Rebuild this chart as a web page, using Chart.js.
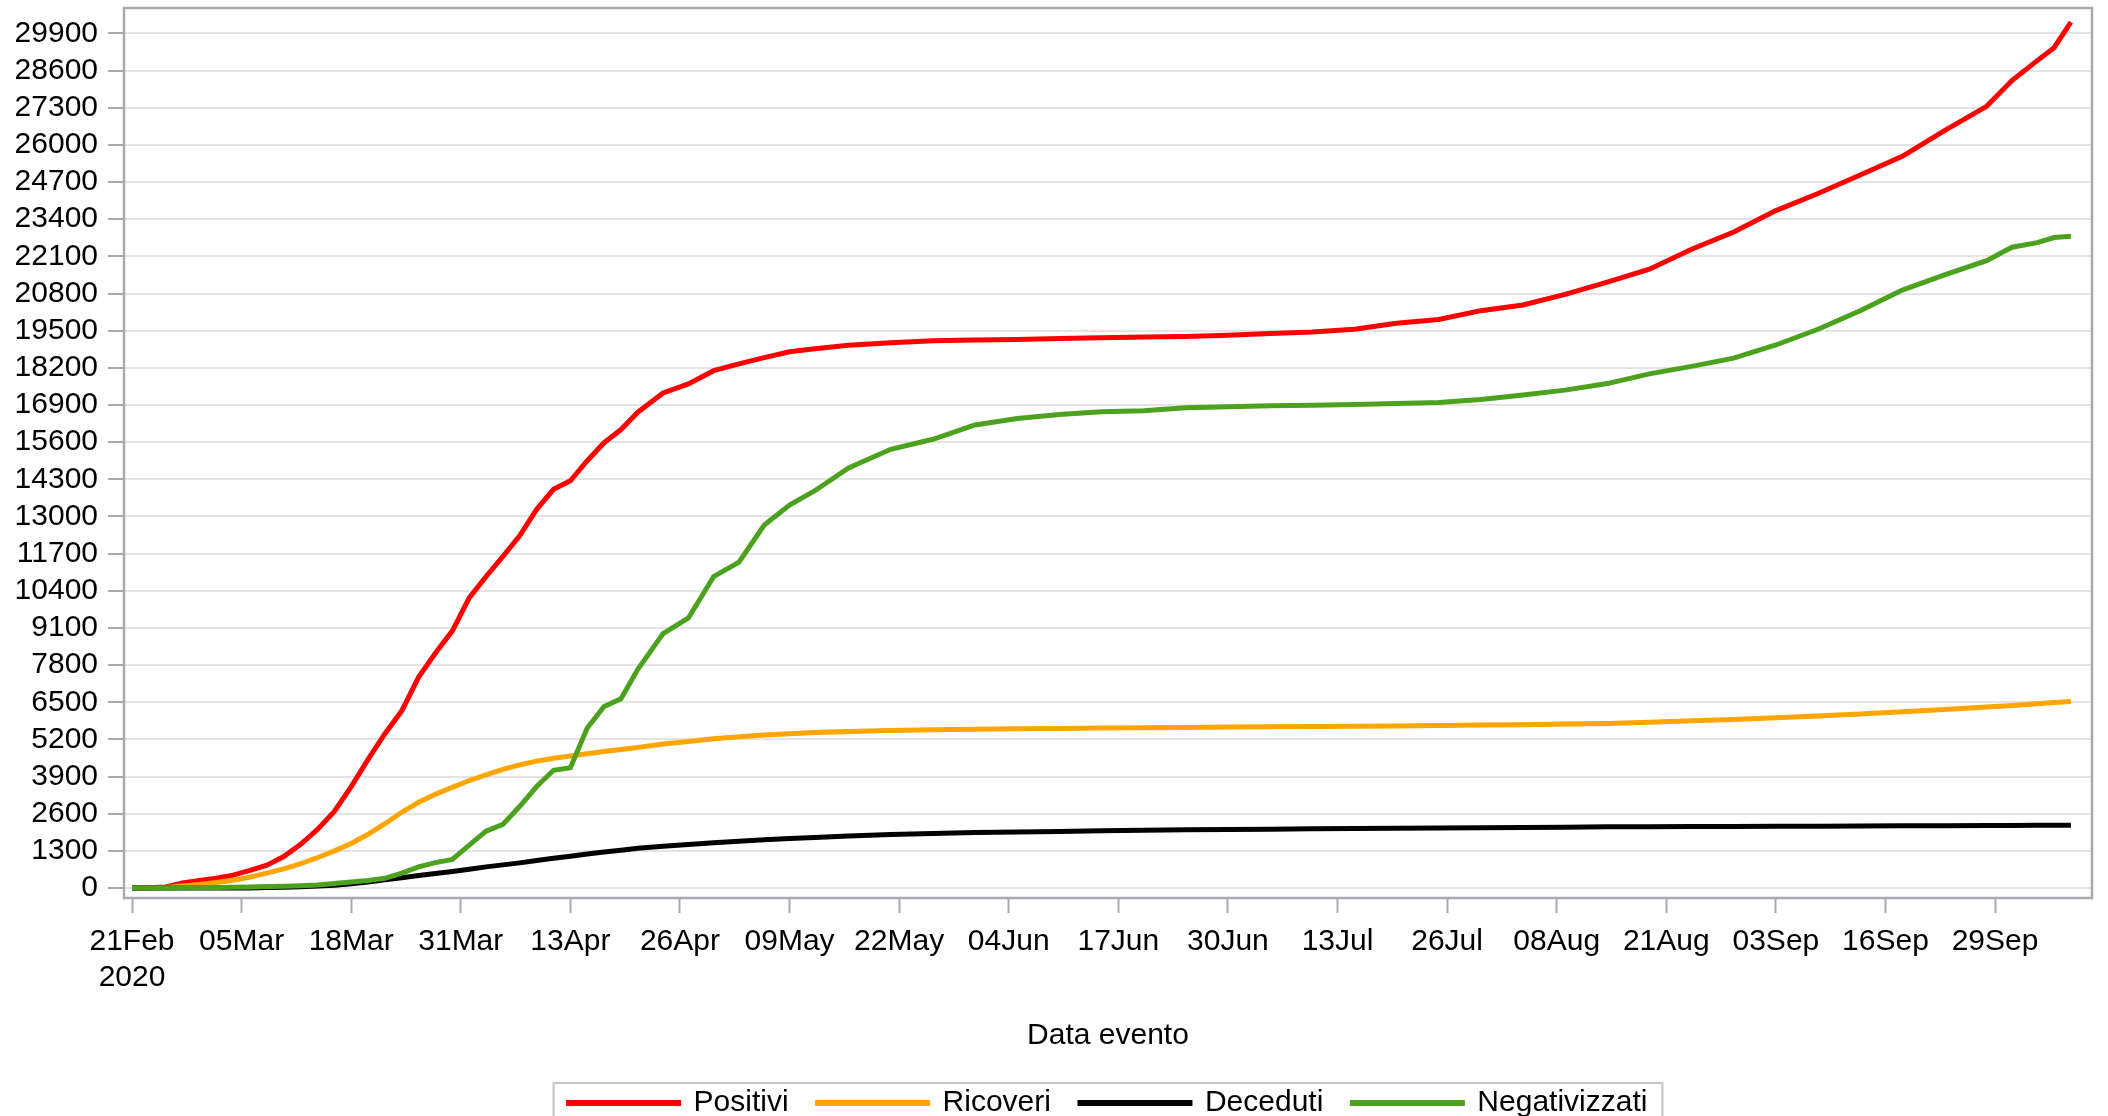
<!DOCTYPE html>
<html>
<head>
<meta charset="utf-8">
<script src="https://cdn.jsdelivr.net/npm/chart.js@4.4.1/dist/chart.umd.min.js"></script>
<style>
    body { margin: 0; background: #fff; }
    #wrap { width: 2108px; height: 1116px; }
</style>
</head>
<body>
<div id="wrap"><canvas id="cases-graph"></canvas></div>
<script>
// days counted from 21 Feb 2020
const days = [0, 2, 4, 6, 8, 10, 12, 14, 16, 18, 20, 22, 24, 26, 28, 30, 32, 34, 36, 38, 40, 42, 44, 46, 48, 50, 52, 54, 56, 58, 60,
    63, 66, 69, 72, 75, 78, 81, 85,
    90, 95, 100, 105, 110, 115, 120, 125, 130, 135, 140, 145, 150, 155, 160, 165, 170, 175, 180, 185, 190, 195, 200, 205, 210, 215, 220,
    223, 226, 228, 230]

const positivi = [0, 10, 40, 180, 260, 340, 450, 620, 800, 1100, 1530, 2050, 2680, 3550, 4500, 5400, 6200, 7380, 8220, 9000, 10150, 10900, 11600, 12330, 13250, 13950, 14250, 14950, 15580, 16040, 16650,
    17320, 17640, 18100, 18340, 18560, 18760, 18870, 18990,
    19080, 19150, 19170, 19195, 19225, 19250, 19275, 19300, 19340, 19400, 19450, 19550, 19760, 19890, 20200, 20400, 20770, 21200, 21650, 22350, 22950, 23700, 24300, 24950, 25600, 26500, 27350,
    28250, 28950, 29400, 30300]

const ricoveri = [0, 5, 20, 70, 120, 190, 270, 380, 520, 670, 850, 1060, 1300, 1560, 1880, 2250, 2650, 3000, 3280, 3520, 3760, 3960, 4150, 4310, 4440, 4540, 4620, 4700, 4780, 4850, 4920,
    5040, 5130, 5220, 5290, 5350, 5400, 5440, 5480,
    5510, 5540, 5555, 5570, 5585, 5600, 5610, 5620, 5630, 5640, 5650, 5660, 5670, 5685, 5700, 5715, 5740, 5760, 5800, 5850, 5900, 5960, 6020, 6090, 6170, 6250, 6330,
    6390, 6450, 6490, 6530]

const deceduti = [0, 0, 0, 0, 0, 0, 2, 5, 15, 30, 45, 70, 100, 145, 210, 290, 360, 440, 510, 580, 660, 740, 810, 880, 960, 1040, 1110, 1190, 1260, 1320, 1390,
    1460, 1520, 1580, 1640, 1690, 1730, 1770, 1820,
    1870, 1910, 1940, 1960, 1980, 2000, 2020, 2040, 2050, 2060, 2070, 2080, 2090, 2100, 2110, 2120, 2130, 2140, 2145, 2150, 2155, 2160, 2165, 2170, 2175, 2180, 2185,
    2190, 2195, 2200, 2200]

const negativizzati = [0, 0, 5, 10, 15, 20, 30, 40, 50, 60, 80, 110, 160, 210, 260, 340, 520, 740, 890, 1000, 1500, 1990, 2230, 2860, 3550, 4120, 4210, 5600, 6350, 6620, 7650,
    8900, 9450, 10900, 11400, 12700, 13400, 13900, 14700,
    15350, 15700, 16200, 16430, 16570, 16660, 16700, 16800, 16840, 16870, 16890, 16920, 16950, 16990, 17090, 17250, 17420, 17650, 17990, 18250, 18540, 19000, 19550, 20200, 20920, 21450, 21950,
    22420, 22580, 22760, 22800]

const xTickDays = [0, 13, 26, 39, 52, 65, 78, 91, 104, 117, 130, 143, 156, 169, 182, 195, 208, 221]
const xTickLabels = [['21Feb', '2020'], '05Mar', '18Mar', '31Mar', '13Apr', '26Apr', '09May', '22May', '04Jun',
    '17Jun', '30Jun', '13Jul', '26Jul', '08Aug', '21Aug', '03Sep', '16Sep', '29Sep']
const yTicks = [0, 1300, 2600, 3900, 5200, 6500, 7800, 9100, 10400, 11700, 13000, 14300, 15600, 16900,
    18200, 19500, 20800, 22100, 23400, 24700, 26000, 27300, 28600, 29900]

function points(values) {
    return days.map((d, i) => ({x: d, y: values[i]}))
}

const axisGrey = '#a6aaae'
const font = {family: "'Liberation Sans', Arial, sans-serif", size: 30}

// plot frame + legend frame, legend centred under the plot
const framePlugin = {
    id: 'frame',
    afterLayout(chart) {
        const a = chart.chartArea
        const lg = chart.legend
        lg.left = a.left
        lg.right = a.right
        lg.top = 1059
        lg.bottom = lg.top + lg.height
    },
    beforeDatasetsDraw(chart) {
        const {ctx, chartArea: a} = chart
        ctx.save()
        ctx.strokeStyle = axisGrey
        ctx.lineWidth = 2.5
        ctx.strokeRect(a.left, a.top, a.right - a.left, a.bottom - a.top)
        ctx.restore()
    },
    afterDraw(chart) {
        const hb = chart.legend.legendHitBoxes
        if (!hb || !hb.length) return
        let l = Math.min(...hb.map(h => h.left)) - 15
        let r = Math.max(...hb.map(h => h.left + h.width)) + 15
        let t = hb[0].top - 5
        const ctx = chart.ctx
        ctx.save()
        ctx.strokeStyle = '#c4c4c4'
        ctx.lineWidth = 2
        ctx.strokeRect(l, t, r - l, chart.height + 10 - t)
        ctx.restore()
    }
}

function noPadding(scale) {
    scale.paddingTop = 0
    scale.paddingBottom = 0
    scale.paddingLeft = 0
    scale.paddingRight = 0
}

const canvas_graph = document.getElementById('cases-graph')
const graph = new Chart(canvas_graph, {
    type: 'line',
    data: {
        datasets: [
            {label: 'Positivi', data: points(positivi), borderColor: '#ff0000', backgroundColor: '#ff0000', order: 3},
            {label: 'Ricoveri', data: points(ricoveri), borderColor: '#ffa500', backgroundColor: '#ffa500', order: 2},
            {label: 'Deceduti', data: points(deceduti), borderColor: '#000000', backgroundColor: '#000000', order: 1},
            {label: 'Negativizzati', data: points(negativizzati), borderColor: '#4ca21f', backgroundColor: '#4ca21f', order: 0}
        ]
    },
    options: {
        responsive: true,
        maintainAspectRatio: false,
        animation: false,
        elements: {
            line: {borderWidth: 5, tension: 0},
            point: {radius: 0}
        },
        layout: {padding: {top: 8, right: 16, left: 0, bottom: 0}},
        scales: {
            x: {
                type: 'linear',
                min: -0.95,
                max: 232.5,
                border: {display: false},
                grid: {drawOnChartArea: false, tickColor: axisGrey, tickLength: 15, tickWidth: 2},
                afterBuildTicks: function (scale) {
                    scale.ticks = xTickDays.map(v => ({value: v}))
                },
                afterFit: function (scale) {
                    scale.height = 149
                    noPadding(scale)
                },
                ticks: {
                    autoSkip: false,
                    maxRotation: 0,
                    padding: 11,
                    color: '#000',
                    font: {...font, lineHeight: 1.2},
                    callback: (v, i) => xTickLabels[i]
                },
                title: {
                    display: true,
                    text: 'Data evento',
                    color: '#000',
                    font: {...font, lineHeight: 1.2},
                    padding: {top: 0, bottom: -7}
                }
            },
            y: {
                min: -349,
                max: 30790,
                border: {display: false},
                grid: {color: '#e4e4e4', lineWidth: 2, tickColor: axisGrey, tickLength: 16, tickWidth: 2},
                afterBuildTicks: function (scale) {
                    scale.ticks = yTicks.map(v => ({value: v}))
                },
                afterFit: function (scale) {
                    scale.width = 124
                    noPadding(scale)
                },
                ticks: {
                    autoSkip: false,
                    padding: 10,
                    color: '#000',
                    font: font,
                    callback: v => String(v)
                }
            }
        },
        plugins: {
            tooltip: {enabled: false},
            legend: {
                position: 'bottom',
                labels: {
                    boxWidth: 110,
                    boxHeight: 1,
                    padding: 29,
                    color: '#000',
                    font: font,
                    sort: (a, b) => a.datasetIndex - b.datasetIndex
                }
            }
        }
    },
    plugins: [framePlugin]
})
</script>
</body>
</html>
